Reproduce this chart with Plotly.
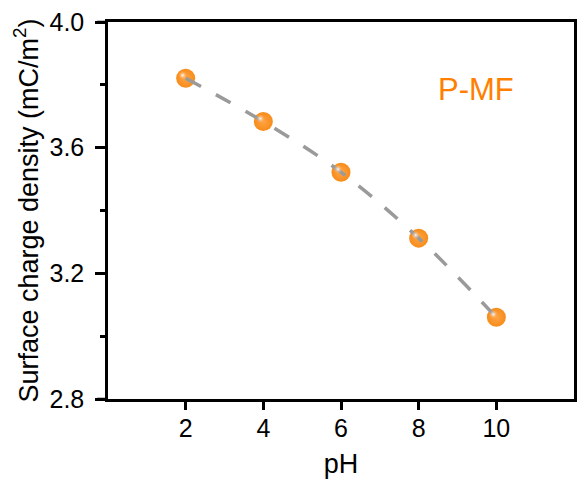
import plotly.graph_objects as go

ph = [2, 4, 6, 8, 10]
charge = [3.821, 3.683, 3.522, 3.312, 3.060]
x_ticks = [2, 4, 6, 8, 10]
y_ticks = [2.8, 3.2, 3.6, 4.0]
y_tick_text = ["2.8", "3.2", "3.6", "4.0"]
x_range = [0, 12]
y_range = [2.8, 4.0]

FONT = "Arial, Liberation Sans, sans-serif"
LINE_GRAY = "#9A9A9A"

W, H = 581, 489
ML, MR, MT, MB = 108, 4, 22, 90
pw = W - ML - MR
ph_px = H - MT - MB
# highlight offset (pixels up-left) converted to axis units
sx = 3 * (x_range[1] - x_range[0]) / pw
sy = 3 * (y_range[1] - y_range[0]) / ph_px

fig = go.Figure()

# main spheres
fig.add_trace(go.Scatter(
    x=ph, y=charge, mode="markers",
    marker=dict(size=19, color="#F78C1A",
                gradient=dict(type="radial", color="#FFA445"),
                line=dict(width=0)),
    showlegend=False, hoverinfo="skip"))

# highlight (offset up-left using shifted invisible axes)
fig.add_trace(go.Scatter(
    x=ph, y=charge, mode="markers", xaxis="x2", yaxis="y2",
    marker=dict(size=9, color="rgba(255,170,90,0.0)",
                gradient=dict(type="radial", color="rgba(255,255,255,0.95)"),
                line=dict(width=0)),
    showlegend=False, hoverinfo="skip"))

# dashed fit line (drawn above markers)
fig.add_trace(go.Scatter(
    x=ph, y=charge, mode="lines", line=dict(color=LINE_GRAY, width=3.5,
                                            dash="17px,17px", shape="spline"),
    showlegend=False, hoverinfo="skip"))

fig.add_annotation(text="P-MF", x=0.79, y=0.82, xref="paper", yref="paper",
                   showarrow=False, font=dict(family=FONT, size=31, color="#FF8000"),
                   xanchor="center", yanchor="middle")

axis_common = dict(showgrid=False, zeroline=False, showline=True, linecolor="black",
                   linewidth=2.5, mirror=True, ticks="outside", tickcolor="black",
                   tickwidth=2.5, tickfont=dict(family=FONT, size=25, color="black"))

fig.update_layout(
    width=W, height=H,
    margin=dict(l=ML, r=MR, t=MT, b=MB),
    paper_bgcolor="white", plot_bgcolor="white",
    xaxis=dict(range=x_range, tickvals=x_ticks, ticklen=8, ticklabelstandoff=-3,
               title=dict(text="pH", font=dict(family=FONT, size=27, color="black"), standoff=14),
               **axis_common),
    yaxis=dict(range=y_range, tickvals=y_ticks, ticktext=y_tick_text, ticklen=10,
               ticklabelstandoff=6,
               minor=dict(dtick=0.2, ticks="outside", ticklen=5, tickwidth=2.5, tickcolor="black"),
               title=dict(text="Surface charge density (mC/m<sup>2</sup>)",
                          font=dict(family=FONT, size=27, color="black"), standoff=4),
               **axis_common),
    xaxis2=dict(range=[x_range[0] + sx, x_range[1] + sx], anchor="y2",
                overlaying="x", visible=False),
    yaxis2=dict(range=[y_range[0] - sy, y_range[1] - sy], anchor="x2",
                overlaying="y", visible=False),
)

# frame lines extending past the left axis, as in the original
ext = 11 / pw
for yv in (0, 1):
    fig.add_shape(type="line", xref="paper", yref="paper", x0=-ext, x1=0, y0=yv, y1=yv,
                  line=dict(color="black", width=2.5))

fig.write_html("out.html")
